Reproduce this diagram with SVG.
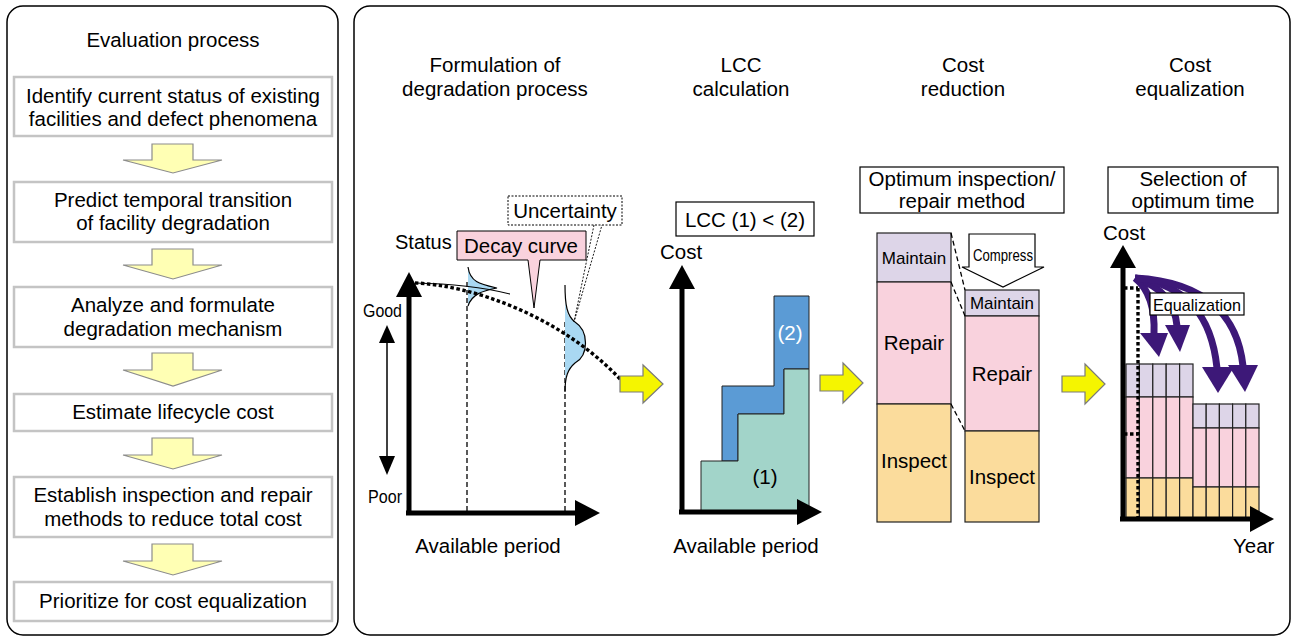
<svg xmlns="http://www.w3.org/2000/svg" width="1293" height="638" viewBox="0 0 1293 638">
  <defs>
    <style>
      text { font-family: "Liberation Sans", Arial, sans-serif; fill: #000; }
      .t { font-size: 20.5px; text-anchor: middle; }
      .frame { fill: #fff; stroke: #000; stroke-width: 1.5; }
      .step { fill: #fff; stroke: #c4c4c4; stroke-width: 2.5; }
      .down { fill: #ffffb4; stroke: #8c8c8c; stroke-width: 1.2; }
      .go { fill: #f5f500; stroke: #7a7a7a; stroke-width: 1.2; }
      .axis { stroke: #000; stroke-width: 5; fill: none; }
      .head { fill: #000; }
      .box { fill: #fff; stroke: #000; stroke-width: 1.2; }
      .mnt { fill: #ddd5e8; stroke: #222; stroke-width: 1.2; }
      .rep { fill: #f9d2dd; stroke: #222; stroke-width: 1.2; }
      .ins { fill: #fbdc9c; stroke: #222; stroke-width: 1.2; }
      .dash { stroke: #000; stroke-width: 1.3; stroke-dasharray: 5 3; fill: none; }
      .dot { stroke: #000; stroke-width: 3.4; stroke-dasharray: 3.5 2.5; fill: none; }
      .eq { stroke: #3d1878; stroke-width: 7; fill: none; }
      .eqh { fill: #3d1878; }
      .dist { fill: #a9d8f2; stroke: none; }
    </style>
  </defs>

  <!-- Panel frames -->
  <g id="evaluation-panel">
    <rect class="frame" x="7" y="6" width="331" height="629" rx="16"/>
    <text class="t" x="173" y="47">Evaluation process</text>
  </g>
  <g id="method-panel">
    <rect class="frame" x="354" y="6" width="936" height="629" rx="16"/>
    <text class="t" x="495" y="72">Formulation of</text>
    <text class="t" x="495" y="96">degradation process</text>
    <text class="t" x="741" y="72">LCC</text>
    <text class="t" x="741" y="96">calculation</text>
    <text class="t" x="963" y="72">Cost</text>
    <text class="t" x="963" y="96">reduction</text>
    <text class="t" x="1190" y="72">Cost</text>
    <text class="t" x="1190" y="96">equalization</text>
  </g>

  <!-- Evaluation process steps -->
  <g id="step-identify">
    <rect class="step" x="14" y="77" width="318" height="59"/>
    <text class="t" x="173" y="103">Identify current status of existing</text>
    <text class="t" x="173" y="126">facilities and defect phenomena</text>
  </g>
  <g id="step-predict">
    <rect class="step" x="14" y="182" width="318" height="60"/>
    <text class="t" x="173" y="207">Predict temporal transition</text>
    <text class="t" x="173" y="230">of facility degradation</text>
  </g>
  <g id="step-analyze">
    <rect class="step" x="14" y="287" width="318" height="60"/>
    <text class="t" x="173" y="312">Analyze and formulate</text>
    <text class="t" x="173" y="336">degradation mechanism</text>
  </g>
  <g id="step-estimate">
    <rect class="step" x="14" y="394" width="318" height="37"/>
    <text class="t" x="173" y="419">Estimate lifecycle cost</text>
  </g>
  <g id="step-establish">
    <rect class="step" x="14" y="477" width="318" height="60"/>
    <text class="t" x="173" y="502">Establish inspection and repair</text>
    <text class="t" x="173" y="526">methods to reduce total cost</text>
  </g>
  <g id="step-prioritize">
    <rect class="step" x="14" y="582" width="318" height="39"/>
    <text class="t" x="173" y="608">Prioritize for cost equalization</text>
  </g>

  <!-- Stage 1: degradation curve -->
  <g id="degradation-chart">
    <line class="dash" x1="467" y1="282" x2="467" y2="513"/>
    <line class="dash" x1="565" y1="322" x2="565" y2="513"/>
    <!-- distributions around the mean curve -->
    <path class="dist" d="M468,268 C470,282 480,284 497,288 C482,291 472,294 468,306 Z"/>
    <path d="M468,267 C470,282 480,284 497,288 C482,291 472,294 468,306" fill="none" stroke="#000" stroke-width="1.2"/>
    <path class="dist" d="M565,300 C566,314 569,318 575,322 C589,331 589,355 575,363 C568,369 565,374 565,386 Z"/>
    <path d="M565,285 C565,305 567,316 575,322 C589,331 589,355 575,363 C568,369 565,376 565,392" fill="none" stroke="#000" stroke-width="1.2"/>
    <path d="M415,283 Q470,284 510,294" fill="none" stroke="#000" stroke-width="1.2"/>
    <path class="dot" d="M415,283 C470,285 560,315 621,380"/>
    <!-- axes -->
    <line class="axis" x1="409" y1="292" x2="409" y2="515"/>
    <polygon class="head" points="409,272 422,297 396,297"/>
    <line class="axis" x1="406" y1="513" x2="580" y2="513"/>
    <polygon class="head" points="600,513 575,500 575,526"/>
    <!-- good/poor range -->
    <line x1="387" y1="338" x2="387" y2="460" stroke="#000" stroke-width="1.5"/>
    <polygon class="head" points="387,325 395,343 379,343"/>
    <polygon class="head" points="387,475 395,456 379,456"/>
    <text x="395" y="249" style="font-size:20px">Status</text>
    <text x="363" y="317" style="font-size:18px" textLength="39" lengthAdjust="spacingAndGlyphs">Good</text>
    <text x="368" y="503" style="font-size:18px" textLength="34" lengthAdjust="spacingAndGlyphs">Poor</text>
    <text class="t" x="488" y="553">Available period</text>
  </g>
  <g id="decay-callout">
    <polygon points="457,231 586,231 586,260 540,260 534,308 528,260 457,260" fill="#f9d2dd" stroke="#000" stroke-width="1"/>
    <text class="t" x="521" y="253">Decay curve</text>
  </g>
  <g id="uncertainty-callout">
    <rect x="508" y="196" width="114" height="29" fill="#fff" stroke="#000" stroke-width="1" stroke-dasharray="2 1.5"/>
    <path d="M594,225 L574,322 L602,225" fill="none" stroke="#000" stroke-width="0.9" stroke-dasharray="2 1.5"/>
    <text class="t" x="565" y="218">Uncertainty</text>
  </g>

  <!-- Stage 2: LCC comparison -->
  <g id="lcc-chart">
    <rect class="box" x="676" y="202" width="138" height="34"/>
    <text class="t" x="745" y="227">LCC (1) &lt; (2)</text>
    <text x="660" y="259" style="font-size:20.5px">Cost</text>
    <polygon points="722,461 722,386 774,386 774,296 809,296 809,369 784,369 784,414 738,414 738,461" fill="#5b9bd5" stroke="#222" stroke-width="1"/>
    <polygon points="701,512 701,461 738,461 738,414 784,414 784,369 809,369 809,512" fill="#a2d4c9" stroke="#222" stroke-width="1"/>
    <text class="t" x="790" y="340" style="fill:#fff">(2)</text>
    <text class="t" x="765" y="484">(1)</text>
    <line class="axis" x1="682" y1="285" x2="682" y2="514"/>
    <polygon class="head" points="682,265 695,289 669,289"/>
    <line class="axis" x1="679" y1="512" x2="800" y2="512"/>
    <polygon class="head" points="822,512 797,499 797,525"/>
    <text class="t" x="746" y="553">Available period</text>
  </g>

  <!-- Stage 3: cost reduction stacks -->
  <g id="cost-reduction">
    <rect class="box" x="860" y="167" width="204" height="46"/>
    <text class="t" x="962" y="186">Optimum inspection/</text>
    <text class="t" x="962" y="208">repair method</text>
    <rect class="mnt" x="877" y="233" width="74" height="49"/>
    <rect class="rep" x="877" y="282" width="74" height="122"/>
    <rect class="ins" x="877" y="404" width="74" height="118"/>
    <text class="t" x="914" y="264" style="font-size:17px">Maintain</text>
    <text class="t" x="914" y="350">Repair</text>
    <text class="t" x="914" y="468">Inspect</text>
    <rect class="mnt" x="965" y="290" width="74" height="26"/>
    <rect class="rep" x="965" y="316" width="74" height="115"/>
    <rect class="ins" x="965" y="431" width="74" height="91"/>
    <text class="t" x="1002" y="309" style="font-size:17px" textLength="64" lengthAdjust="spacingAndGlyphs">Maintain</text>
    <text class="t" x="1002" y="381">Repair</text>
    <text class="t" x="1002" y="484">Inspect</text>
    <line class="dash" x1="951" y1="233" x2="965" y2="290"/>
    <line class="dash" x1="951" y1="282" x2="965" y2="316"/>
    <line class="dash" x1="951" y1="404" x2="965" y2="431"/>
    <polygon points="969,234 1035,234 1035,267 1044,267 1003,287 962,267 969,267" fill="#fff" stroke="#000" stroke-width="1.2"/>
    <text class="t" x="1003" y="261" style="font-size:17px" textLength="60" lengthAdjust="spacingAndGlyphs">Compress</text>
  </g>

  <!-- Stage 4: cost equalization over years -->
  <g id="cost-equalization">
    <rect class="box" x="1108" y="167" width="170" height="46"/>
    <text class="t" x="1193" y="186">Selection of</text>
    <text class="t" x="1193" y="208">optimum time</text>
    <text x="1103" y="240" style="font-size:20.5px">Cost</text>
    <!-- earlier years -->
    <g>
      <rect class="mnt" x="1126" y="364" width="13.4" height="33"/>
      <rect class="mnt" x="1139.4" y="364" width="13.4" height="33"/>
      <rect class="mnt" x="1152.8" y="364" width="13.4" height="33"/>
      <rect class="mnt" x="1166.2" y="364" width="13.4" height="33"/>
      <rect class="mnt" x="1179.6" y="364" width="13.4" height="33"/>
      <rect class="rep" x="1126" y="397" width="13.4" height="81"/>
      <rect class="rep" x="1139.4" y="397" width="13.4" height="81"/>
      <rect class="rep" x="1152.8" y="397" width="13.4" height="81"/>
      <rect class="rep" x="1166.2" y="397" width="13.4" height="81"/>
      <rect class="rep" x="1179.6" y="397" width="13.4" height="81"/>
      <rect class="ins" x="1126" y="478" width="13.4" height="41"/>
      <rect class="ins" x="1139.4" y="478" width="13.4" height="41"/>
      <rect class="ins" x="1152.8" y="478" width="13.4" height="41"/>
      <rect class="ins" x="1166.2" y="478" width="13.4" height="41"/>
      <rect class="ins" x="1179.6" y="478" width="13.4" height="41"/>
    </g>
    <!-- later years after equalization -->
    <g>
      <rect class="mnt" x="1193" y="404" width="13.2" height="24"/>
      <rect class="mnt" x="1206.2" y="404" width="13.2" height="24"/>
      <rect class="mnt" x="1219.4" y="404" width="13.2" height="24"/>
      <rect class="mnt" x="1232.6" y="404" width="13.2" height="24"/>
      <rect class="mnt" x="1245.8" y="404" width="13.2" height="24"/>
      <rect class="rep" x="1193" y="428" width="13.2" height="59"/>
      <rect class="rep" x="1206.2" y="428" width="13.2" height="59"/>
      <rect class="rep" x="1219.4" y="428" width="13.2" height="59"/>
      <rect class="rep" x="1232.6" y="428" width="13.2" height="59"/>
      <rect class="rep" x="1245.8" y="428" width="13.2" height="59"/>
      <rect class="ins" x="1193" y="487" width="13.2" height="32"/>
      <rect class="ins" x="1206.2" y="487" width="13.2" height="32"/>
      <rect class="ins" x="1219.4" y="487" width="13.2" height="32"/>
      <rect class="ins" x="1232.6" y="487" width="13.2" height="32"/>
      <rect class="ins" x="1245.8" y="487" width="13.2" height="32"/>
    </g>
    <path class="dot" d="M1138,288 V519 M1124,288 H1138 M1124,434 H1138"/>
    <line class="axis" x1="1123" y1="262" x2="1123" y2="521"/>
    <polygon class="head" points="1123,245 1136,268 1110,268"/>
    <line class="axis" x1="1120" y1="519" x2="1252" y2="519"/>
    <polygon class="head" points="1274,519 1250,506 1250,532"/>
    <text x="1233" y="553" style="font-size:20.5px">Year</text>
    <!-- equalization arrows -->
    <path class="eq" d="M1135,278 C1150,290 1155,310 1154,334"/>
    <polygon class="eqh" points="1140,333 1168,333 1159,357"/>
    <path class="eq" d="M1135,278 C1165,288 1175,305 1177,326"/>
    <polygon class="eqh" points="1165,325 1190,325 1180,352"/>
    <path class="eq" d="M1135,278 C1190,285 1212,320 1217,368"/>
    <polygon class="eqh" points="1202,367 1234,367 1218,393"/>
    <path class="eq" d="M1135,278 C1210,282 1238,320 1243,366"/>
    <polygon class="eqh" points="1228,365 1258,365 1245,392"/>
    <rect class="box" x="1150" y="293" width="94" height="22"/>
    <text class="t" x="1197" y="311" style="font-size:17px" textLength="88" lengthAdjust="spacingAndGlyphs">Equalization</text>
  </g>

  <!-- Flow arrows: between steps, and between stages -->
  <g id="connectors">
    <polygon class="down" points="152,144 193,144 193,160 222,160 173,173 123,160 152,160"/>
    <polygon class="down" points="152,249 193,249 193,265 222,265 173,279 123,265 152,265"/>
    <polygon class="down" points="152,353 193,353 193,370 222,370 173,386 123,370 152,370"/>
    <polygon class="down" points="152,438 193,438 193,455 222,455 173,469 123,455 152,455"/>
    <polygon class="down" points="152,544 193,544 193,561 222,561 173,575 123,561 152,561"/>
    <polygon class="go" points="620,376 643,376 643,365 663,384 643,403 643,392 620,392"/>
    <polygon class="go" points="820,375 843,375 843,363 863,383 843,403 843,391 820,391"/>
    <polygon class="go" points="1062,376 1085,376 1085,364 1105,384 1085,404 1085,392 1062,392"/>
  </g>
</svg>
